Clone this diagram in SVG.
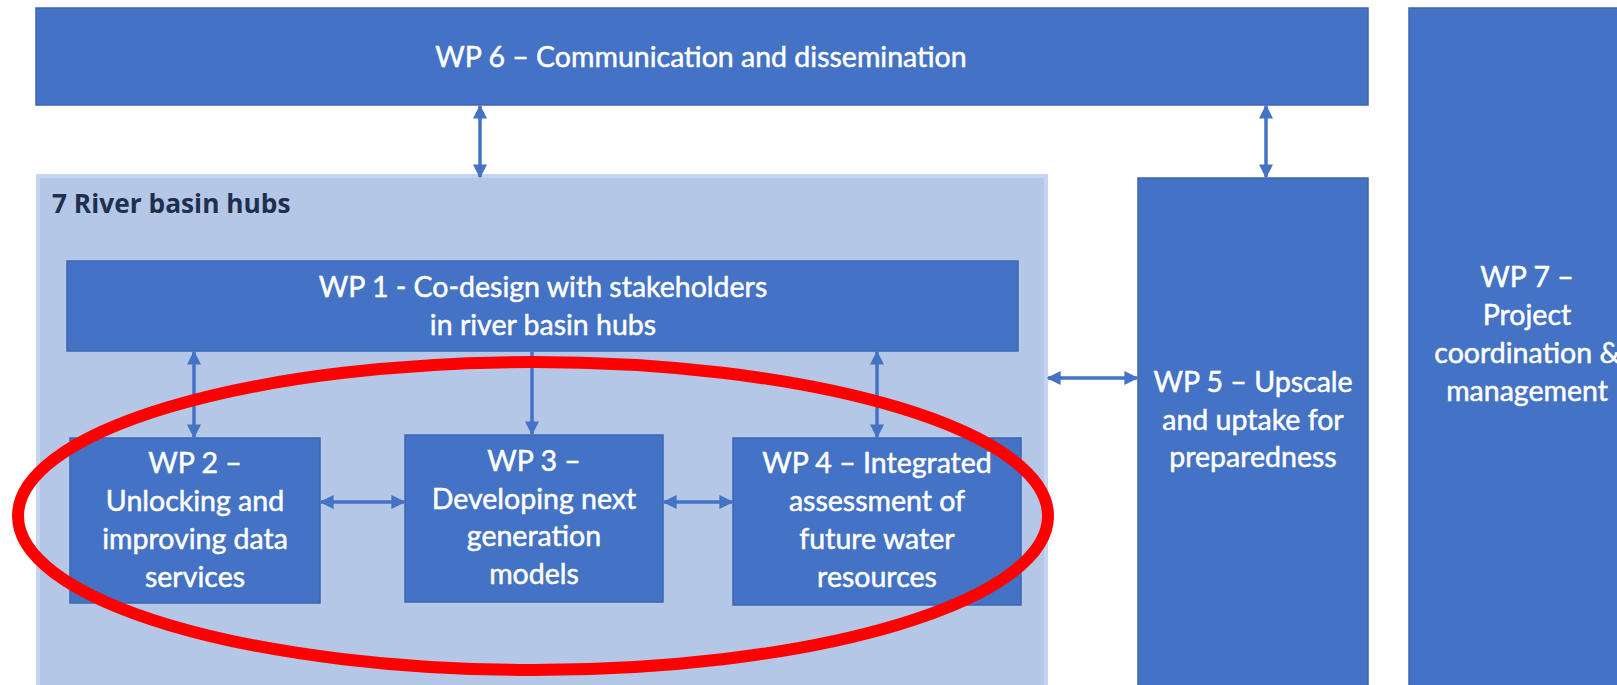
<svg xmlns="http://www.w3.org/2000/svg" width="1617" height="685" viewBox="0 0 1617 685">
  <defs>
    <style>
      .box { fill: #4472C4; stroke: #3C66B2; stroke-width: 1.5; }
      .hub { fill: #B4C7E7; stroke: #C6D5EF; stroke-width: 4; }
      .t { font-family: Lato, "Open Sans", "Liberation Sans", sans-serif; font-size: 28.5px; fill: #FFFFFF; stroke: #FFFFFF; stroke-width: 0.5; text-anchor: middle; }
      .title { font-family: "Open Sans", Lato, "Liberation Sans", sans-serif; font-size: 26.3px; font-weight: bold; fill: #1F2F50; }
      .conn { stroke: #4472C4; stroke-width: 3.5; fill: none; }
      .ring { fill: none; stroke: #FF0000; stroke-width: 12; }
    </style>
    <marker id="ah" viewBox="0 0 10 10" refX="9" refY="5" markerWidth="14" markerHeight="14" markerUnits="userSpaceOnUse" orient="auto-start-reverse">
      <path d="M0,0 L10,5 L0,10 z" fill="#4472C4"/>
    </marker>
  </defs>
  <rect width="1617" height="685" fill="#FFFFFF"/>

  <g id="hub">
    <rect class="hub" x="38" y="176" width="1008" height="512"/>
    <text class="title" x="52" y="213">7 River basin hubs</text>
  </g>

  <g id="wp6">
    <rect class="box" x="36" y="8" width="1332" height="97"/>
    <text class="t" x="701" y="67">WP 6 – Communication and dissemination</text>
  </g>

  <g id="wp7">
    <rect class="box" x="1409" y="8" width="212" height="682"/>
    <text class="t" x="1527" y="287">WP 7 –</text>
    <text class="t" x="1527" y="325">Project</text>
    <text class="t" x="1527" y="363">coordination &amp;</text>
    <text class="t" x="1527" y="401">management</text>
  </g>

  <g id="wp5">
    <rect class="box" x="1138" y="178" width="230" height="512"/>
    <text class="t" x="1253" y="392">WP 5 – Upscale</text>
    <text class="t" x="1253" y="430">and uptake for</text>
    <text class="t" x="1253" y="467">preparedness</text>
  </g>

  <g id="wp1">
    <rect class="box" x="67" y="261" width="951" height="90"/>
    <text class="t" x="543" y="297">WP 1 - Co-design with stakeholders</text>
    <text class="t" x="543" y="335">in river basin hubs</text>
  </g>

  <g id="wp2">
    <rect class="box" x="70" y="438" width="250" height="165"/>
    <text class="t" x="195" y="473">WP 2 –</text>
    <text class="t" x="195" y="511">Unlocking and</text>
    <text class="t" x="195" y="549">improving data</text>
    <text class="t" x="195" y="587">services</text>
  </g>

  <g id="wp3">
    <rect class="box" x="405" y="435" width="258" height="167"/>
    <text class="t" x="534" y="471">WP 3 –</text>
    <text class="t" x="534" y="509">Developing next</text>
    <text class="t" x="534" y="546">generation</text>
    <text class="t" x="534" y="584">models</text>
  </g>

  <g id="wp4">
    <rect class="box" x="733" y="438" width="288" height="167"/>
    <text class="t" x="877" y="473">WP 4 – Integrated</text>
    <text class="t" x="877" y="511">assessment of</text>
    <text class="t" x="877" y="549">future water</text>
    <text class="t" x="877" y="587">resources</text>
  </g>

  <g id="connectors">
    <line class="conn" x1="480" y1="106" x2="480" y2="177" marker-start="url(#ah)" marker-end="url(#ah)"/>
    <line class="conn" x1="1266" y1="106" x2="1266" y2="177" marker-start="url(#ah)" marker-end="url(#ah)"/>
    <line class="conn" x1="194" y1="352" x2="194" y2="437" marker-start="url(#ah)" marker-end="url(#ah)"/>
    <line class="conn" x1="532" y1="352" x2="532" y2="434" marker-end="url(#ah)"/>
    <line class="conn" x1="877" y1="352" x2="877" y2="437" marker-start="url(#ah)" marker-end="url(#ah)"/>
    <line class="conn" x1="321" y1="502" x2="404" y2="502" marker-start="url(#ah)" marker-end="url(#ah)"/>
    <line class="conn" x1="664" y1="502" x2="732" y2="502" marker-start="url(#ah)" marker-end="url(#ah)"/>
    <line class="conn" x1="1048" y1="378" x2="1137" y2="378" marker-start="url(#ah)" marker-end="url(#ah)"/>
  </g>

  <g id="highlight">
    <ellipse class="ring" cx="533" cy="516" rx="515" ry="154"/>
  </g>
</svg>
